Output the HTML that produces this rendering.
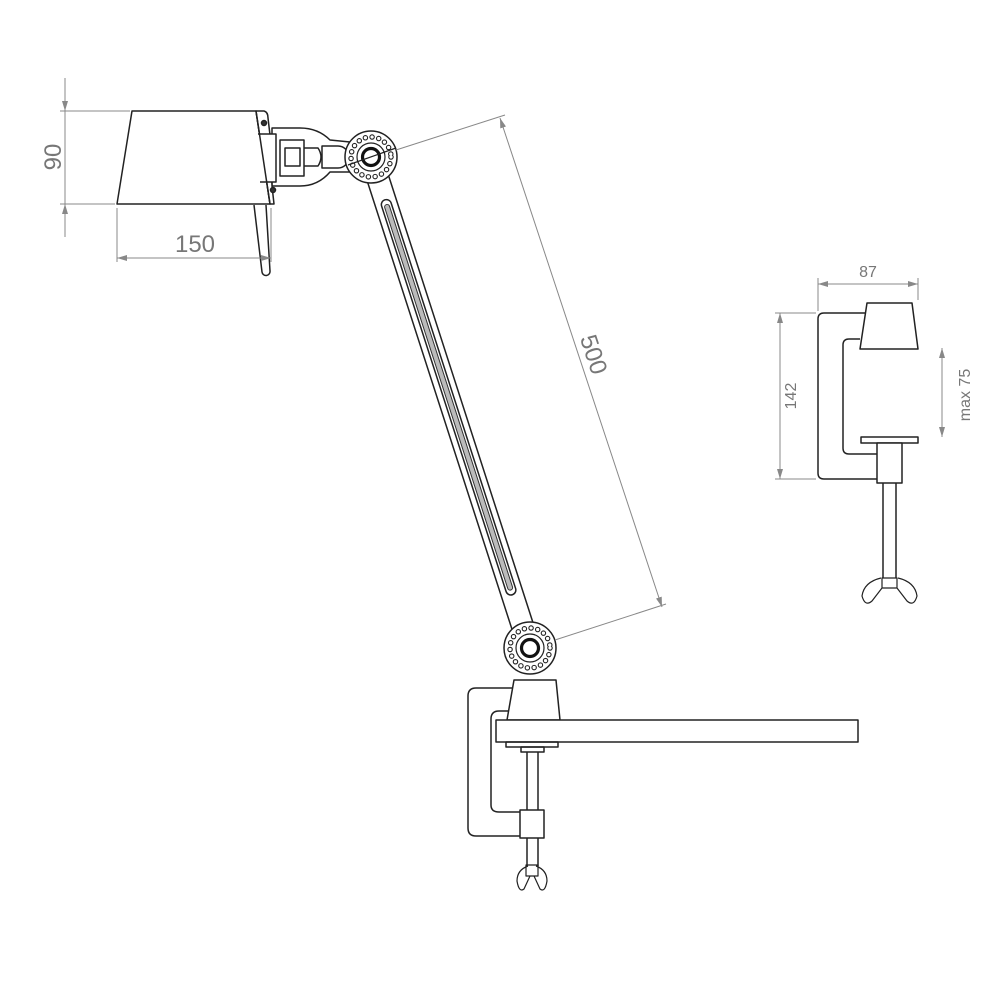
<!DOCTYPE html>
<html><head><meta charset="utf-8"><style>
html,body{margin:0;padding:0;background:#fff}
svg{display:block}
text{font-family:"Liberation Sans",sans-serif;fill:#777}
</style></head><body>
<svg width="1000" height="1000" viewBox="0 0 1000 1000" xmlns="http://www.w3.org/2000/svg">
<defs>
<marker id="ar" viewBox="0 0 10 6" refX="10" refY="3" markerWidth="10" markerHeight="6" orient="auto-start-reverse" markerUnits="userSpaceOnUse"><path d="M0,0 L10,3 L0,6z" fill="#888"/></marker>
<g id="joint">
<circle r="26" fill="#fff" stroke="#222" stroke-width="1.5"/>
<circle r="20" fill="none" stroke="#222" stroke-width="5.5" stroke-dasharray="0 6.8" stroke-linecap="round"/>
<circle r="20" fill="none" stroke="#fff" stroke-width="3.3" stroke-dasharray="0 6.8" stroke-linecap="round"/>
<circle r="14" fill="none" stroke="#222" stroke-width="1.2"/>
<circle r="8.5" fill="#fff" stroke="#111" stroke-width="3.2"/>
</g>
</defs>
<g fill="none" stroke="#222" stroke-width="1.5" stroke-linejoin="round">
<path d="M254,205 L262,272 a4,4 0 0 0 8,-1 L266,205" fill="#fff"/>
<path d="M272,128 L300,128 Q318,128 330,140 L350,142 L350,172 L330,172 Q318,186 300,186 L272,186 Z" fill="#fff"/>
<path d="M280,140 L304,140 L304,176 L280,176Z"/>
<path d="M285,148 L300,148 L300,166 L285,166Z"/>
<path d="M304,148 L318,148 Q324,157 318,166 L304,166"/>
<path d="M322,146 L338,146 A11,11 0 0 1 338,168 L322,168Z"/>
<path d="M132,111 L256,111 L270,204 L117,204 Z" fill="#fff"/>
<path d="M256,111 L264,111 Q268,112 268,118 L270,135 L272,186 L274,204 L270,204 Z" fill="#fff"/>
<path d="M258,134 L276,134 L276,182 L260,182" fill="#fff"/>
<circle cx="264" cy="123" r="2.5" fill="#333"/>
<circle cx="273" cy="190" r="2.5" fill="#333"/>
<path d="M256,111 L270,204"/>
<g transform="translate(371,157) rotate(-17.9)">
<path d="M-11,10 L-11,500 L11,500 L11,10" fill="#fff"/>
<rect x="-5" y="45" width="10" height="415" rx="5" fill="#fff"/>
<rect x="-2.5" y="50" width="5" height="405" rx="2.5" fill="#bbb" stroke="#333" stroke-width="1"/>
</g>
<use href="#joint" x="371" y="157"/>
<use href="#joint" x="530" y="648"/>
<line x1="348" y1="165" x2="396" y2="148" stroke="#222" stroke-width="1.2"/>
<path d="M514,688 L476,688 Q468,688 468,696 L468,828 Q468,836 476,836 L520,836"/>
<path d="M510,711 L499,711 Q491,711 491,719 L491,805 Q491,812 499,812 L520,812"/>
<path d="M514,680 L556,680 L560,720 L507,720 Z" fill="#fff"/>
<rect x="496" y="720" width="362" height="22" fill="#fff"/>
<rect x="506" y="742" width="52" height="5"/>
<rect x="521" y="747" width="23" height="5"/>
<path d="M527,752 L527,810 M538,752 L538,810 M527,838 L527,866 M538,838 L538,866"/>
<rect x="520" y="810" width="24" height="28" fill="#fff"/>
<path d="M528,866 Q517,870 517,881 Q519,893 524,889 L530,876 M536,866 Q547,870 547,881 Q545,893 540,889 L534,876 M526,865 L538,865 L538,876 L526,876Z" stroke-width="1.2"/>
<path d="M867,313 L824,313 Q818,313 818,319 L818,473 Q818,479 824,479 L877,479"/>
<path d="M860,339 L849,339 Q843,339 843,345 L843,448 Q843,454 849,454 L877,454"/>
<path d="M867,303 L912,303 L918,349 L860,349 Z" fill="#fff"/>
<rect x="861" y="437" width="57" height="6"/>
<rect x="877" y="443" width="25" height="40" fill="#fff"/>
<path d="M883,483 L883,578 M896,483 L896,578"/>
<path d="M881,578 Q864,582 862,596 Q865,607 872,601 L882,588 M898,578 Q915,582 917,596 Q914,607 907,601 L897,588 M882,578 L897,578 L897,588 L882,588Z" stroke-width="1.2"/>
</g>
<g stroke="#888" stroke-width="1" fill="none">
<line x1="60" y1="111" x2="130" y2="111"/>
<line x1="60" y1="204" x2="115" y2="204"/>
<line x1="65" y1="78" x2="65" y2="111" marker-end="url(#ar)"/>
<line x1="65" y1="237" x2="65" y2="204" marker-end="url(#ar)"/>
<line x1="65" y1="111" x2="65" y2="204"/>
<line x1="117" y1="208" x2="117" y2="262"/>
<line x1="271" y1="208" x2="271" y2="262"/>
<line x1="117" y1="258" x2="271" y2="258" marker-start="url(#ar)" marker-end="url(#ar)"/>
<line x1="396" y1="150" x2="505" y2="115"/>
<line x1="555" y1="640" x2="666" y2="604"/>
<line x1="500" y1="118" x2="662" y2="607" marker-start="url(#ar)" marker-end="url(#ar)"/>
<line x1="818" y1="278" x2="818" y2="311"/>
<line x1="918" y1="278" x2="918" y2="300"/>
<line x1="818" y1="284" x2="918" y2="284" marker-start="url(#ar)" marker-end="url(#ar)"/>
<line x1="775" y1="313" x2="816" y2="313"/>
<line x1="775" y1="479" x2="816" y2="479"/>
<line x1="780" y1="313" x2="780" y2="479" marker-start="url(#ar)" marker-end="url(#ar)"/>
<line x1="942" y1="348" x2="942" y2="437" marker-start="url(#ar)" marker-end="url(#ar)"/>
</g>
<text x="0" y="0" font-size="24" text-anchor="middle" transform="translate(61,157) rotate(-90)">90</text>
<text x="195" y="252" font-size="24" text-anchor="middle">150</text>
<text x="0" y="0" font-size="24" text-anchor="middle" transform="translate(586,357) rotate(71.7)">500</text>
<text x="868" y="277" font-size="16" text-anchor="middle">87</text>
<text x="0" y="0" font-size="16" text-anchor="middle" transform="translate(796,396) rotate(-90)">142</text>
<text x="0" y="0" font-size="16" text-anchor="middle" transform="translate(970,395) rotate(-90)">max 75</text>
</svg>
</body></html>
